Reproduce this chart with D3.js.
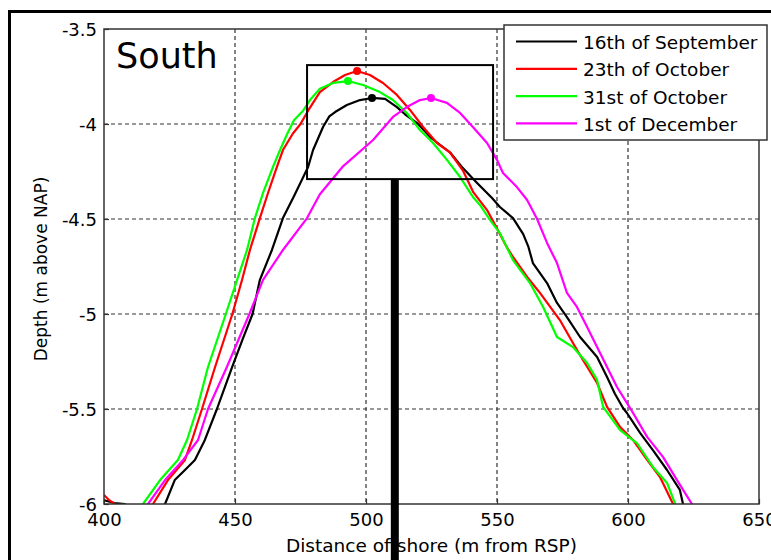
<!DOCTYPE html>
<html>
<head>
<meta charset="utf-8">
<script src="https://cdn.jsdelivr.net/npm/d3@7"></script>
<style>
    body { margin: 0; background: #fff; }
    svg { display: block; }
    text { font-family: "DejaVu Sans", Verdana, sans-serif; fill: #000; }
</style>
</head>
<body>
<div id="chart"></div>
<script>
// profile data [distance offshore (m), depth (m above NAP)]
const sep16 = [
    [400, -5.98], [404, -5.995], [408, -6.0], [412, -6.08], [418, -6.05], [423.3, -6.0],
    [427, -5.874], [431, -5.82], [434.7, -5.768], [438.5, -5.663], [443.1, -5.5],
    [448.9, -5.279], [453, -5.13], [456.7, -5.0], [459.5, -4.82], [464.1, -4.663],
    [468.3, -4.495], [472.5, -4.38], [477.9, -4.226], [479.8, -4.137], [483.6, -4.016],
    [486, -3.96], [488.2, -3.937], [492.7, -3.9], [497.7, -3.874], [502.3, -3.863],
    [507.3, -3.868], [511.8, -3.911], [515, -3.95], [519.5, -3.995], [525, -4.075],
    [532.1, -4.15], [536.6, -4.226], [542.4, -4.31], [548.1, -4.39], [551.1, -4.437],
    [556.1, -4.495], [560, -4.58], [562, -4.647], [563.7, -4.732], [569.1, -4.837],
    [572.9, -4.942], [576.7, -5.016], [581.7, -5.121], [588.2, -5.226], [592, -5.332],
    [595, -5.42], [598.1, -5.495], [599.6, -5.521], [604.6, -5.626], [609.5, -5.716],
    [614.9, -5.821], [619.8, -5.926], [621, -6.0], [623, -6.05]
];
const oct23 = [
    [400, -5.953], [402, -5.98], [404, -6.0], [410, -6.1], [416, -6.05], [418.7, -6.0],
    [424.4, -5.874], [430.9, -5.768], [433.6, -5.663], [437.4, -5.5], [442.4, -5.279],
    [449, -5.0], [452.7, -4.82], [455.7, -4.663], [459.5, -4.495], [462.6, -4.363],
    [466, -4.226], [468.3, -4.137], [472.1, -4.05], [475, -4.0], [477.9, -3.93],
    [482.4, -3.832], [487.4, -3.779], [492, -3.742], [496.6, -3.721], [501.5, -3.742],
    [506.5, -3.784], [511.8, -3.847], [516.8, -3.926], [521.8, -4.016], [527.1, -4.1],
    [532.1, -4.15], [537, -4.245], [541, -4.36], [546.2, -4.453], [550, -4.55],
    [553.7, -4.647], [556.1, -4.7], [561.5, -4.805], [566.4, -4.889], [574, -5.032],
    [579, -5.153], [582.8, -5.242], [588.2, -5.363], [592, -5.489], [597, -5.595],
    [601.9, -5.663], [607.3, -5.768], [612.2, -5.858], [617.2, -6.0], [619, -6.05]
];
const oct31 = [
    [410, -6.1], [414.9, -6.0], [421.4, -5.874], [428.2, -5.768], [431.7, -5.663],
    [435.5, -5.5], [439.7, -5.279], [446.5, -5.0], [450.8, -4.82], [454.6, -4.663],
    [457.6, -4.495], [460.7, -4.363], [464.5, -4.226], [467.2, -4.137], [470, -4.05],
    [472.5, -3.98], [476, -3.93], [478.6, -3.874], [482.4, -3.815], [487.4, -3.784],
    [493.1, -3.774], [498.9, -3.795], [505.3, -3.832], [510.3, -3.874], [515.6, -3.942],
    [520.6, -4.032], [525.6, -4.1], [530.9, -4.189], [535.9, -4.279], [540.8, -4.384],
    [543.5, -4.426], [547.3, -4.505], [551.1, -4.574], [556.1, -4.716], [562.6, -4.837],
    [567.6, -4.963], [572.9, -5.121], [579, -5.174], [584.4, -5.258], [588.2, -5.347],
    [590.5, -5.489], [597, -5.611], [603.4, -5.679], [609.5, -5.805], [614.9, -5.889],
    [618, -6.0], [620, -6.05]
];
const dec1 = [
    [410, -6.1], [416.8, -6.0], [423.3, -5.874], [430.2, -5.768], [435.9, -5.663],
    [439.7, -5.5], [446.9, -5.279], [455.5, -5.0], [460.7, -4.82], [468.3, -4.663],
    [477.5, -4.495], [482.4, -4.37], [491, -4.226], [502.7, -4.084], [510.3, -3.963],
    [515.6, -3.911], [520.6, -3.874], [524.8, -3.863], [530.9, -3.889], [535.9, -3.942],
    [540.8, -4.016], [546.2, -4.1], [550, -4.189], [552.3, -4.258], [557.6, -4.332],
    [561.5, -4.4], [565.3, -4.5], [569.1, -4.626], [572.9, -4.732], [576.7, -4.889],
    [580.5, -4.963], [584.4, -5.068], [588.2, -5.174], [592, -5.279], [595.8, -5.384],
    [600.8, -5.495], [607.3, -5.647], [613.4, -5.753], [618.7, -5.874], [624.4, -6.0],
    [626, -6.05]
];

const seriesNames = ["16th of September", "23th of October", "31st of October", "1st of December"];
const seriesColors = ["#000000", "#ff0000", "#00ff00", "#ff00ff"];
const seriesData = [sep16, oct23, oct31, dec1];
// crest points marked with a dot
const crestPoints = [[502.3, -3.863], [496.6, -3.721], [493.1, -3.774], [524.8, -3.863]];

const xTicks = [400, 450, 500, 550, 600, 650];
const yTicks = [-3.5, -4, -4.5, -5, -5.5, -6];
const zoomBoxX = [477.5, 548.5];
const zoomBoxY = [-3.69, -4.29];
const pointerX = 511;

const width = 771, height = 560;
const margin = { top: 29, left: 104, right: 12, bottom: 56 };
const plotW = width - margin.left - margin.right;
const plotH = height - margin.top - margin.bottom;

const svg = d3.select("#chart")
    .append("svg")
    .attr("width", width)
    .attr("height", height);

// figure frame (cut off at right/bottom)
svg.append("path")
    .attr("d", "M9.5," + height + "V11.5H" + width)
    .attr("fill", "none")
    .attr("stroke", "#000")
    .attr("stroke-width", 3);

const x = d3.scaleLinear().domain([400, 650]).range([0, plotW]);
const y = d3.scaleLinear().domain([-6, -3.5]).range([plotH, 0]);

const focus = svg.append("g")
    .attr("transform", "translate(" + margin.left + "," + margin.top + ")");

focus.append("rect")
    .attr("width", plotW)
    .attr("height", plotH)
    .attr("fill", "#fff");

// grid
focus.append("g")
    .selectAll("line")
    .data(xTicks.slice(1, -1))
    .join("line")
    .attr("x1", d => x(d)).attr("x2", d => x(d))
    .attr("y1", 0).attr("y2", plotH)
    .attr("stroke", "#333")
    .attr("stroke-width", 1.2)
    .attr("stroke-dasharray", "4,3");
focus.append("g")
    .selectAll("line")
    .data(yTicks.slice(1, -1))
    .join("line")
    .attr("x1", 0).attr("x2", plotW)
    .attr("y1", d => y(d)).attr("y2", d => y(d))
    .attr("stroke", "#333")
    .attr("stroke-width", 1.2)
    .attr("stroke-dasharray", "4,3");

// axes
const gX = focus.append("g")
    .attr("class", "x")
    .attr("transform", "translate(0," + plotH + ")")
    .call(d3.axisBottom(x).tickValues(xTicks).tickSize(-5).tickPadding(10).tickFormat(d3.format("d")));
const gY = focus.append("g")
    .attr("class", "y")
    .call(d3.axisLeft(y).tickValues(yTicks).tickSize(-5).tickPadding(7).tickFormat(d => d));
[gX, gY].forEach(g => {
    g.select(".domain").remove();
    g.selectAll(".tick line").attr("stroke", "#333").attr("stroke-width", 1.2);
    g.selectAll("text")
        .attr("font-size", "18px")
        .style("font-family", "'DejaVu Sans', Verdana, sans-serif")
        .attr("fill", "#000");
});
gX.selectAll("text").attr("dy", "0.71em").attr("y", 9);
gY.selectAll("text").attr("dy", "0.36em");

focus.append("defs")
    .append("clipPath")
    .attr("id", "plot-clip")
    .append("rect")
    .attr("width", plotW)
    .attr("height", plotH);

const line = d3.line()
    .x(d => x(d[0]))
    .y(d => y(d[1]));

const plot = focus.append("g").attr("clip-path", "url(#plot-clip)");
plot.selectAll("path")
    .data(seriesData)
    .join("path")
    .attr("d", line)
    .attr("fill", "none")
    .attr("stroke", (d, i) => seriesColors[i])
    .attr("stroke-width", 2.2)
    .attr("stroke-linejoin", "round");

plot.selectAll("circle")
    .data(crestPoints)
    .join("circle")
    .attr("cx", d => x(d[0]))
    .attr("cy", d => y(d[1]))
    .attr("r", 4)
    .attr("fill", (d, i) => seriesColors[i]);

// axes frame
focus.append("rect")
    .attr("width", plotW)
    .attr("height", plotH)
    .attr("fill", "none")
    .attr("stroke", "#333")
    .attr("stroke-width", 1.5);

// zoom box and pointer bar
focus.append("rect")
    .attr("x", x(zoomBoxX[0]))
    .attr("y", y(zoomBoxY[0]))
    .attr("width", x(zoomBoxX[1]) - x(zoomBoxX[0]))
    .attr("height", y(zoomBoxY[1]) - y(zoomBoxY[0]))
    .attr("fill", "none")
    .attr("stroke", "#000")
    .attr("stroke-width", 2);
focus.append("line")
    .attr("x1", x(pointerX)).attr("x2", x(pointerX))
    .attr("y1", y(zoomBoxY[1]))
    .attr("y2", height)
    .attr("stroke", "#000")
    .attr("stroke-width", 8);

// title
focus.append("text")
    .attr("x", 12)
    .attr("y", 39)
    .attr("font-size", "35px")
    .text("South");

// axis labels
focus.append("text")
    .attr("x", plotW / 2)
    .attr("y", plotH + 48)
    .attr("text-anchor", "middle")
    .attr("font-size", "18.5px")
    .text("Distance offshore (m from RSP)");
focus.append("text")
    .attr("transform", "translate(" + (47 - margin.left) + "," + (269 - margin.top) + ") rotate(-90)")
    .attr("text-anchor", "middle")
    .attr("font-size", "17px")
    .text("Depth (m above NAP)");

// legend
const legend = svg.append("g")
    .attr("transform", "translate(504,25)");
legend.append("rect")
    .attr("width", 263)
    .attr("height", 115)
    .attr("fill", "#fff")
    .attr("stroke", "#333")
    .attr("stroke-width", 1.5);
const items = legend.selectAll(".item")
    .data(seriesNames)
    .join("g")
    .attr("class", "item")
    .attr("transform", (d, i) => "translate(0," + (16.5 + i * 27.3) + ")");
items.append("line")
    .attr("x1", 12).attr("x2", 73)
    .attr("stroke", (d, i) => seriesColors[i])
    .attr("stroke-width", 2.2);
items.append("text")
    .attr("x", 79)
    .attr("y", 7.5)
    .attr("font-size", "18.5px")
    .text(d => d);
</script>
</body>
</html>
